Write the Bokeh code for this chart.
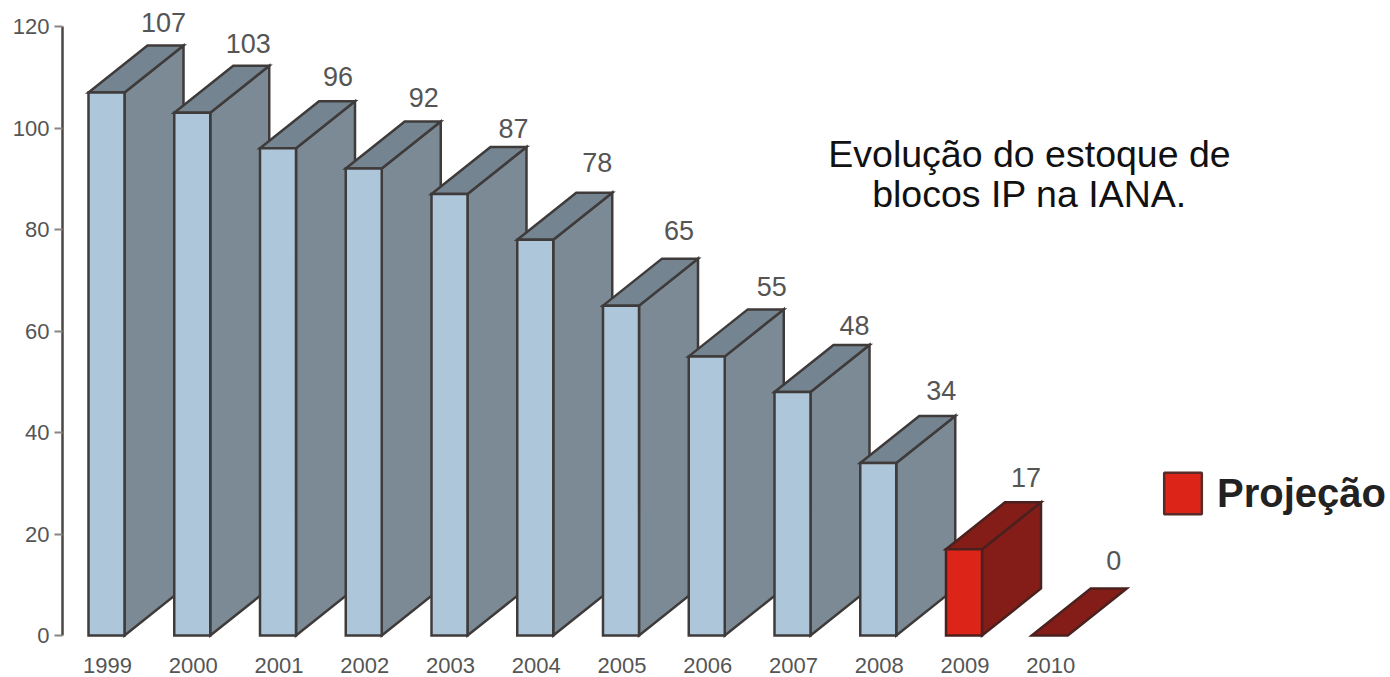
from bokeh.plotting import figure
from bokeh.embed import file_html
from bokeh.resources import INLINE
from bokeh.core.properties import value
from bokeh.models import Label, Legend, LegendItem, FixedTicker, Range1d

years = [1999, 2000, 2001, 2002, 2003, 2004, 2005, 2006, 2007, 2008, 2009, 2010]
stock = [107, 103, 96, 92, 87, 78, 65, 55, 48, 34, 17, 0]
projected = [2009, 2010]
y_ticks = [0, 20, 40, 60, 80, 100, 120]
title_lines = ["Evolução do estoque de", "blocos IP na IANA."]
legend_label = "Projeção"

# hand placement of the value labels in the source picture, in pixels
label_dx = [0, -1, 3, 3, 7, 5, 1, 8, 5, 6, 5, 7]
label_dy = [13, 13, 15, 15, 9, 21, 19, 13, 10, 16, 15, 19]

# reference-pixel scales
PX_YEAR = 85.75
PX_UNIT = 5.075
X_1999 = 107
Y_ZERO = 635
ref_x = lambda px: 1999 + (px - X_1999) / PX_YEAR
ref_y = lambda py: (Y_ZERO - py) / PX_UNIT

L, R = -19 / PX_YEAR, 17 / PX_YEAR
DX = 59 / PX_YEAR
DY = 47 / PX_UNIT

p = figure(width=1390, height=677, output_backend="svg", toolbar_location=None,
           x_range=Range1d(ref_x(62), ref_x(1390)), y_range=Range1d(ref_y(639), ref_y(0)),
           min_border_left=62, min_border_right=0, min_border_top=0, min_border_bottom=38,
           background_fill_color="white", border_fill_color="white")
p.outline_line_color = None
p.grid.visible = False

xs, ys, fills, lines = [], [], [], []
for yr, v in zip(years, stock):
    red = yr in projected
    front, side, top = ("#DD2418", "#841D17", "#841D17") if red else ("#AEC6DA", "#7B8A94", "#748591")
    edge = "#4A211E" if red else "#3F3B3A"
    a, b = yr + L, yr + R
    if v > 0:
        xs.append([b, b + DX, b + DX, b]); ys.append([0, DY, v + DY, v]); fills.append(side); lines.append(edge)
    xs.append([a, a + DX, b + DX, b]); ys.append([v, v + DY, v + DY, v]); fills.append(top); lines.append(edge)
    if v > 0:
        xs.append([a, b, b, a]); ys.append([0, 0, v, v]); fills.append(front); lines.append(edge)

p.patches(xs, ys, fill_color=fills, line_color=lines, line_width=2.5, line_join="miter")

# value labels
p.text([y + 56 / PX_YEAR for y in years], [v + DY for v in stock], text=[str(v) for v in stock],
       text_font=value("Liberation Sans"), text_font_size="27px", text_color="#555555",
       text_align="center", text_baseline="bottom",
       x_offset=label_dx, y_offset=[-d for d in label_dy])

# description
for line, py in zip(title_lines, [153, 193]):
    p.add_layout(Label(x=ref_x(1029), y=ref_y(py), text=line, text_font="Liberation Sans",
                       text_font_size="37.5px", text_color="#111111",
                       text_align="center", text_baseline="middle"))

# axes
ya = p.yaxis[0]
ya.ticker = FixedTicker(ticks=y_ticks)
ya.bounds = (0, 120)
ya.axis_line_color = "#4A4644"
ya.axis_line_width = 2.5
ya.major_tick_line_color = "#8A8684"
ya.major_tick_line_width = 2
ya.major_tick_out = 8
ya.major_tick_in = 0
ya.minor_tick_line_color = None
ya.major_label_standoff = 5
ya.major_label_text_font = "Liberation Sans"
ya.major_label_text_font_size = "22px"
ya.major_label_text_color = "#555555"

xa = p.xaxis[0]
xa.ticker = FixedTicker(ticks=years)
xa.major_label_overrides = {y: str(y) for y in years}
xa.axis_line_color = None
xa.major_tick_line_color = None
xa.minor_tick_line_color = None
xa.major_label_standoff = 12
xa.major_label_text_font = "Liberation Sans"
xa.major_label_text_font_size = "22px"
xa.major_label_text_line_height = 1.0
xa.major_label_text_color = "#555555"

# the doubled zero on the axis
p.add_layout(Label(x=ref_x(62), y=0, x_offset=-13, text="0", text_font="Liberation Sans",
                   text_font_size="22px", text_font_style="bold", text_color="#333333",
                   text_align="right", text_baseline="middle"))

# legend
swatch = p.quad(left=[float("nan")], right=[float("nan")], top=[float("nan")], bottom=[float("nan")],
                fill_color="#DD2418", line_color="#5A2A28", line_width=2.5)
lg = Legend(items=[LegendItem(label=legend_label, renderers=[swatch])],
            location=(1159 - 62, 639 - 519), orientation="vertical",
            background_fill_alpha=0, border_line_color=None,
            padding=0, margin=0, glyph_width=47, glyph_height=52, label_standoff=11,
            label_text_font="Liberation Sans", label_text_font_style="bold",
            label_text_font_size="40px", label_text_color="#222222")
p.add_layout(lg)

open("out.html", "w").write(file_html(p, INLINE))
